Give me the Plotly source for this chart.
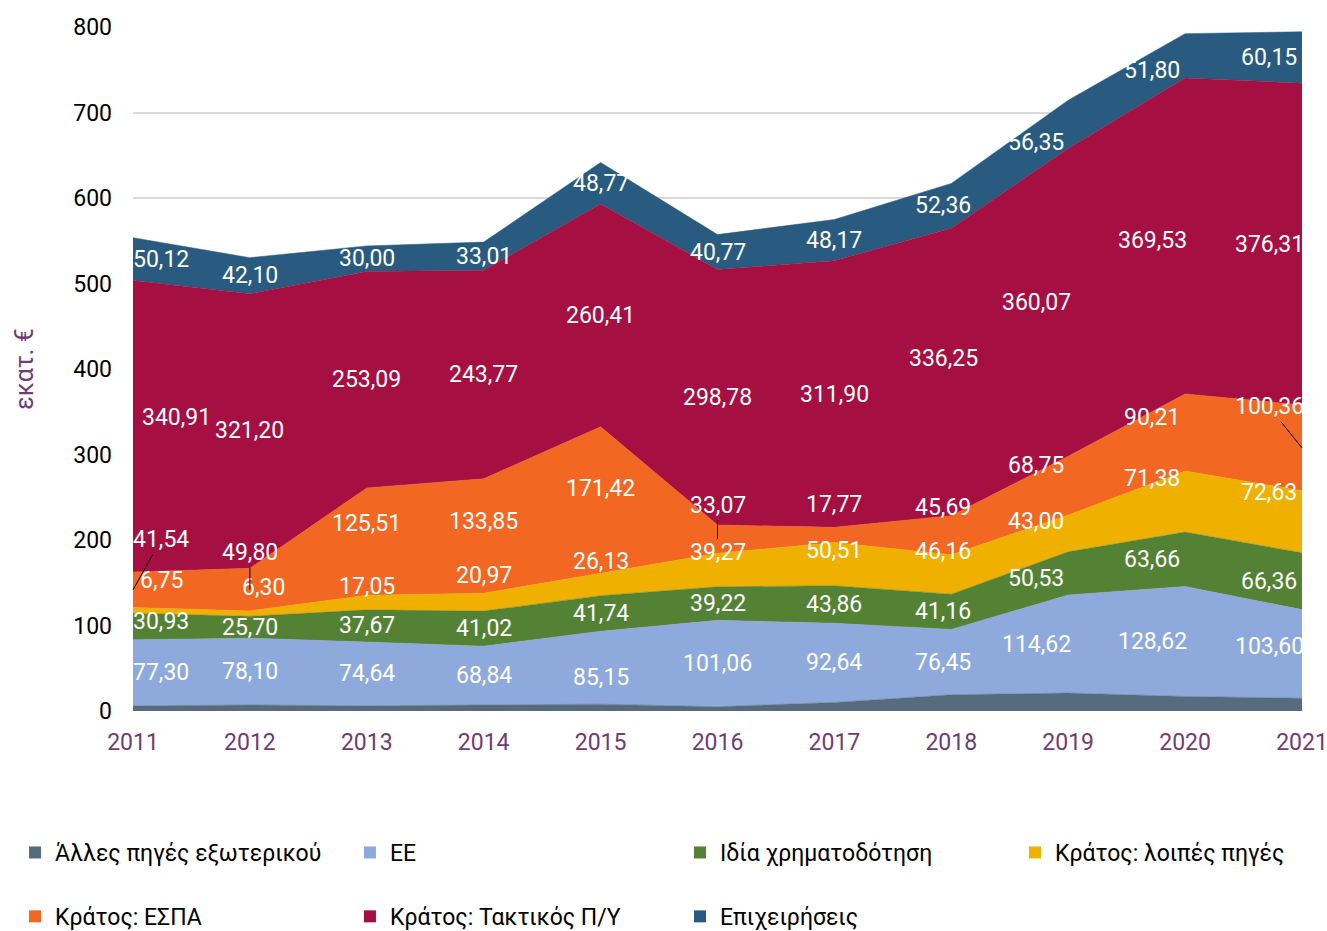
import numpy as np
import plotly.graph_objects as go

# data (εκατ. €)
years = [2011, 2012, 2013, 2014, 2015, 2016, 2017, 2018, 2019, 2020, 2021]

names = ["Άλλες πηγές εξωτερικού", "ΕΕ", "Ιδία χρηματοδότηση", "Κράτος: λοιπές πηγές",
         "Κράτος: ΕΣΠΑ", "Κράτος: Τακτικός Π/Υ", "Επιχειρήσεις"]

abroad = [6, 7, 6, 7, 8, 5, 10, 19, 21, 17, 15]
eu = [77.30, 78.10, 74.64, 68.84, 85.15, 101.06, 92.64, 76.45, 114.62, 128.62, 103.60]
own = [30.93, 25.70, 37.67, 41.02, 41.74, 39.22, 43.86, 41.16, 50.53, 63.66, 66.36]
state_other = [6.75, 6.30, 17.05, 20.97, 26.13, 39.27, 50.51, 46.16, 43.00, 71.38, 72.63]
state_espa = [41.54, 49.80, 125.51, 133.85, 171.42, 33.07, 17.77, 45.69, 68.75, 90.21, 100.36]
state_budget = [340.91, 321.20, 253.09, 243.77, 260.41, 298.78, 311.90, 336.25, 360.07, 369.53, 376.31]
business = [50.12, 42.10, 30.00, 33.01, 48.77, 40.77, 48.17, 52.36, 56.35, 51.80, 60.15]

series = [abroad, eu, own, state_other, state_espa, state_budget, business]
colors = ["#566b7d", "#8eaadc", "#548235", "#f0b000", "#f26722", "#a50f41", "#295a80"]
labelled = [False, True, True, True, True, True, True]

# label placement tweaks (pixels), style only
year_dx = [28, 0, 0, 0, 0, 0, 0, -8, -32, -33, -33]
label_dy = {
    1: [0, 0, 0, 0, 10, 0, 0, 0, 0, 0, -7],
    2: [-5, 0, 0, 0, 0, 0, 0, 0, 5, 0, 0],
    3: [-30, -26, -16, -27, -23, -18, -14, -23, -12, -23, -29],
    4: [-50, -37, -18, -14, -12, -34, -30, -28, -20, -15, -41],
    5: [-9, 0, 0, 0, 0, 0, 0, -13, 0, 5, 0],
    6: [0, 0, 0, 0, 0, 0, 0, 0, 18, 15, 0],
}
extra_dx = {(5, 0): 15, (3, 1): 14}
leaders = {(4, 0), (4, 1), (4, 5), (4, 10)}

FONT = "Roboto"
PURPLE = "#713b78"

fig = go.Figure()

for name, vals, col in zip(names, series, colors):
    fig.add_trace(go.Scatter(x=years, y=vals, name=name, stackgroup="one", mode="lines",
                             line=dict(width=0.5, color=col), fillcolor=col,
                             showlegend=False, hoverinfo="x+y+name"))

# legend: 4 columns x 2 rows, one small legend per column
legend_ids = ["legend", "legend2", "legend3", "legend4"]
for i, (name, col) in enumerate(zip(names, colors)):
    fig.add_trace(go.Scatter(x=[None], y=[None], name=name, mode="markers",
                             marker=dict(symbol="square", size=12, color=col),
                             legend=legend_ids[i % 4], legendgroup=name))

# value labels at the middle of each band
data = np.array(series, dtype=float)
tops = np.cumsum(data, axis=0)
mids = tops - data / 2
for s in range(len(series)):
    if not labelled[s]:
        continue
    for j, yr in enumerate(years):
        dx = year_dx[j] + extra_dx.get((s, j), 0)
        dy = label_dy[s][j]
        fig.add_annotation(x=yr, y=mids[s, j], text=f"{series[s][j]:.2f}".replace(".", ","),
                           showarrow=True, ax=dx, ay=dy, axref="pixel", ayref="pixel",
                           arrowhead=0, arrowwidth=1, standoff=0, startstandoff=0,
                           arrowcolor="black" if (s, j) in leaders else "rgba(0,0,0,0)",
                           font=dict(family=FONT, size=23, color="white"))

legend_cols = [-0.1009, 0.1856, 0.4679, 0.7545]
legend_style = dict(xref="paper", yref="container", yanchor="top", y=0.1074,
                    xanchor="left", traceorder="grouped", tracegroupgap=31,
                    font=dict(size=23), itemwidth=30, bgcolor="rgba(0,0,0,0)")

fig.update_layout(
    width=1327, height=931,
    margin=dict(l=133, r=25, t=27, b=220),
    plot_bgcolor="white", paper_bgcolor="white",
    font=dict(family=FONT, size=23, color="black"),
    xaxis=dict(range=[2011, 2021], tickvals=years, showgrid=False, zeroline=False,
               automargin=False, ticklabeloverflow="allow",
               tickfont=dict(color=PURPLE, size=23), ticklabelstandoff=15, fixedrange=True),
    yaxis=dict(range=[0, 800], dtick=100, gridcolor="#d9d9d9", gridwidth=1.5,
               zeroline=False, ticklabelstandoff=20, automargin=False,
               title=dict(text="εκατ. €", font=dict(color=PURPLE, size=25), standoff=32)),
    **{lid: dict(x=lx, **legend_style) for lid, lx in zip(legend_ids, legend_cols)},
)

# drop the default page margin so the figure fills the window
fig.write_html("out.html", config={"displayModeBar": False},
               post_script="document.body.style.margin='0';document.body.style.overflow='hidden';")
